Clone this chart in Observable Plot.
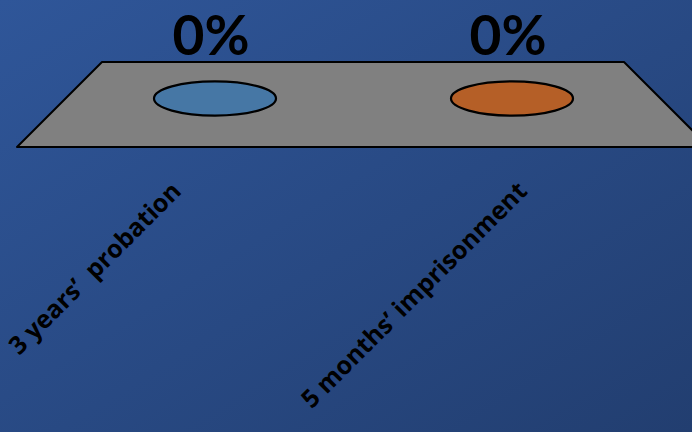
<!DOCTYPE html>
<html><head><meta charset="utf-8">
<script src="https://cdn.jsdelivr.net/npm/d3@7"></script>
<script src="https://cdn.jsdelivr.net/npm/@observablehq/plot@0.6"></script>
<style>
html,body{margin:0;padding:0;background:#2a4a85;overflow:hidden;}
#chart svg{display:block;}
</style></head><body><div id="chart"></div>
<script>
const categories = ["3 years\u2019  probation", "5 months\u2019 imprisonment"];
const values = [0, 0];
const valueLabels = ["0%", "0%"];
const colors = ["#4677a5", "#b55f27"];

const data = categories.map((c, i) => ({category: c, value: values[i], label: valueLabels[i]}));

// flat ellipse symbol (a zero-height cylinder seen in perspective)
const puddle = {
  draw(context, size) {
    const rx = Math.sqrt(size / Math.PI), ry = rx * 0.28, k = 0.5523;
    context.moveTo(rx, 0);
    context.bezierCurveTo(rx, ry * k, rx * k, ry, 0, ry);
    context.bezierCurveTo(-rx * k, ry, -rx, ry * k, -rx, 0);
    context.bezierCurveTo(-rx, -ry * k, -rx * k, -ry, 0, -ry);
    context.bezierCurveTo(rx * k, -ry, rx, -ry * k, rx, 0);
    context.closePath();
  }
};

const W = 692, H = 432, MT = 62, MB = 285;
const plot = Plot.plot({
  width: W, height: H,
  marginTop: MT, marginBottom: MB, marginLeft: 18, marginRight: 0,
  x: {type: "band", domain: categories, range: [66, 660], padding: 0, axis: null},
  y: {domain: [0, 1], range: [98, 20], axis: null},
  color: {domain: categories, range: colors},
  style: {background: "linear-gradient(to bottom right, #2f5699, #223e70)", fontFamily: "Lato, sans-serif", overflow: "hidden"},
  marks: [
    Plot.dot(data, {x: "category", y: "value", r: 61, symbol: puddle, fill: "category", stroke: "#000", strokeWidth: 2.2}),
    Plot.text(data, {x: "category", y: "value", text: "label", dy: -61, dx: -4, fontSize: 55, fontWeight: 700, fill: "#000"})
  ]
});
document.getElementById("chart").append(plot);

// perspective floor and category labels derived from the plot's scales
const sx = plot.scale("x"), sy = plot.scale("y");
const [r0, r1] = sx.range;
const cx = (r0 + r1) / 2, halfMid = (r1 - r0) / 2;
const yMid = sy.apply(0), yTop = MT, yBot = H - MB;
const halfBack = halfMid - (yMid - yTop), halfFront = halfMid + (yBot - yMid);
const svg = d3.select(plot);
svg.insert("path", "g")
  .attr("d", `M${cx - halfBack},${yTop}L${cx + halfBack},${yTop}L${cx + halfFront},${yBot}L${cx - halfFront},${yBot}Z`)
  .attr("fill", "#808080").attr("stroke", "#000").attr("stroke-width", 2).attr("stroke-linejoin", "round");

const g = svg.append("g").attr("aria-label", "x-axis tick label")
  .attr("font-family", "'Open Sans', sans-serif")
  .attr("font-size", 25).attr("font-weight", 700).attr("fill", "#000");
categories.forEach(c => {
  const xm = sx.apply(c) + sx.bandwidth / 2;
  const xf = cx + (xm - cx) * halfFront / halfMid;
  g.append("text")
    .attr("transform", `translate(${xf - 13},${yBot + 40}) rotate(-45)`)
    .attr("text-anchor", "end").attr("dy", "0.32em")
    .style("white-space", "pre")
    .text(c);
});
</script></body></html>
